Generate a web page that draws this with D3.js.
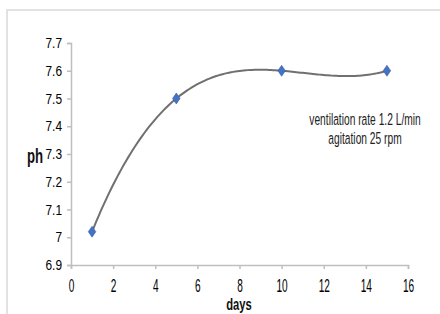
<!DOCTYPE html>
<html>
<head>
<meta charset="utf-8">
<script src="https://cdn.jsdelivr.net/npm/d3@7"></script>
<style>
  body { margin: 0; background: #fff; }
  svg { display: block; font-family: "Liberation Sans", Arial, sans-serif; }
</style>
</head>
<body>
<div id="chart"></div>
<script>
const days = [1, 5, 10, 15];
const ph = [7.02, 7.5, 7.6, 7.6];
const xTicks = [0, 2, 4, 6, 8, 10, 12, 14, 16];
const yTicks = [6.9, 7.0, 7.1, 7.2, 7.3, 7.4, 7.5, 7.6, 7.7];
const note = ["ventilation rate 1.2 L/min", "agitation 25 rpm"];

const width = 440, height = 314;
const svg = d3.select("#chart").append("svg").attr("width", width).attr("height", height);

// outer frame
svg.append("path").attr("d", "M7,314V10H440").attr("fill", "none").attr("stroke", "#d9d9d9").attr("stroke-width", 1.5);

const x = d3.scaleLinear().domain([0, 16]).range([71, 408]);
const y = d3.scaleLinear().domain([6.9, 7.7]).range([265, 43]);

const xAxis = svg.append("g").attr("transform", `translate(0,${y(6.9)})`)
  .call(d3.axisBottom(x).tickValues(xTicks).tickFormat(d3.format("d")).tickSizeOuter(0).tickSize(4).tickPadding(10));
const yAxis = svg.append("g").attr("transform", `translate(${x(0)},0)`)
  .call(d3.axisLeft(y).tickValues(yTicks).tickFormat(d => d === 7 ? "7" : d3.format(".1f")(d)).tickSizeOuter(0).tickSize(4).tickPadding(7));

[xAxis, yAxis].forEach(g => {
  g.select(".domain").attr("stroke", "#bfbfbf").attr("stroke-width", 1.5);
  g.selectAll(".tick line").attr("stroke", "#bfbfbf").attr("stroke-width", 1.5);
  g.selectAll(".tick text").attr("fill", "#000").attr("font-family", "inherit");
});
// squeeze glyphs sideways, the source font is a narrow one
xAxis.selectAll(".tick text").attr("font-size", 18).attr("transform", "scale(0.56,1)");
yAxis.selectAll(".tick text").attr("font-size", 14.5).attr("transform", "scale(0.82,1)");

// cubic polynomial trendline through the four points (Lagrange form)
const trend = t => d3.sum(days, (xi, i) =>
  ph[i] * days.reduce((p, xj, j) => j === i ? p : p * (t - xj) / (xi - xj), 1));
const trendX = d3.range(days[0], days[days.length - 1] + 0.001, 0.1);
const line = d3.line().x(t => x(t)).y(t => y(trend(t)));
svg.append("path").datum(trendX).attr("d", line).attr("fill", "none").attr("stroke", "#707070").attr("stroke-width", 2);

const pts = days.map((d, i) => [d, ph[i]]);
svg.selectAll(".pt").data(pts).join("path").attr("class", "pt")
  .attr("transform", d => `translate(${x(d[0])},${y(d[1])})`)
  .attr("d", "M0,-5.5L3.8,0L0,5.5L-3.8,0Z")
  .attr("fill", "#4472c4").attr("stroke", "#2f5597").attr("stroke-width", 0.5);

svg.append("text").attr("transform", "translate(35,163) scale(0.66,1)").attr("text-anchor", "middle")
  .attr("font-size", 20).attr("font-weight", "bold").attr("fill", "#111").text("ph");
svg.append("text").attr("transform", "translate(239,310) scale(0.68,1)").attr("text-anchor", "middle")
  .attr("font-size", 16.5).attr("font-weight", "bold").attr("fill", "#111").text("days");

svg.append("g").selectAll("text").data(note).join("text")
  .attr("transform", (d, i) => `translate(365,${125 + i * 19}) scale(0.62,1)`).attr("text-anchor", "middle")
  .attr("font-size", 16.5).attr("fill", "#222").text(d => d);
</script>
</body>
</html>
